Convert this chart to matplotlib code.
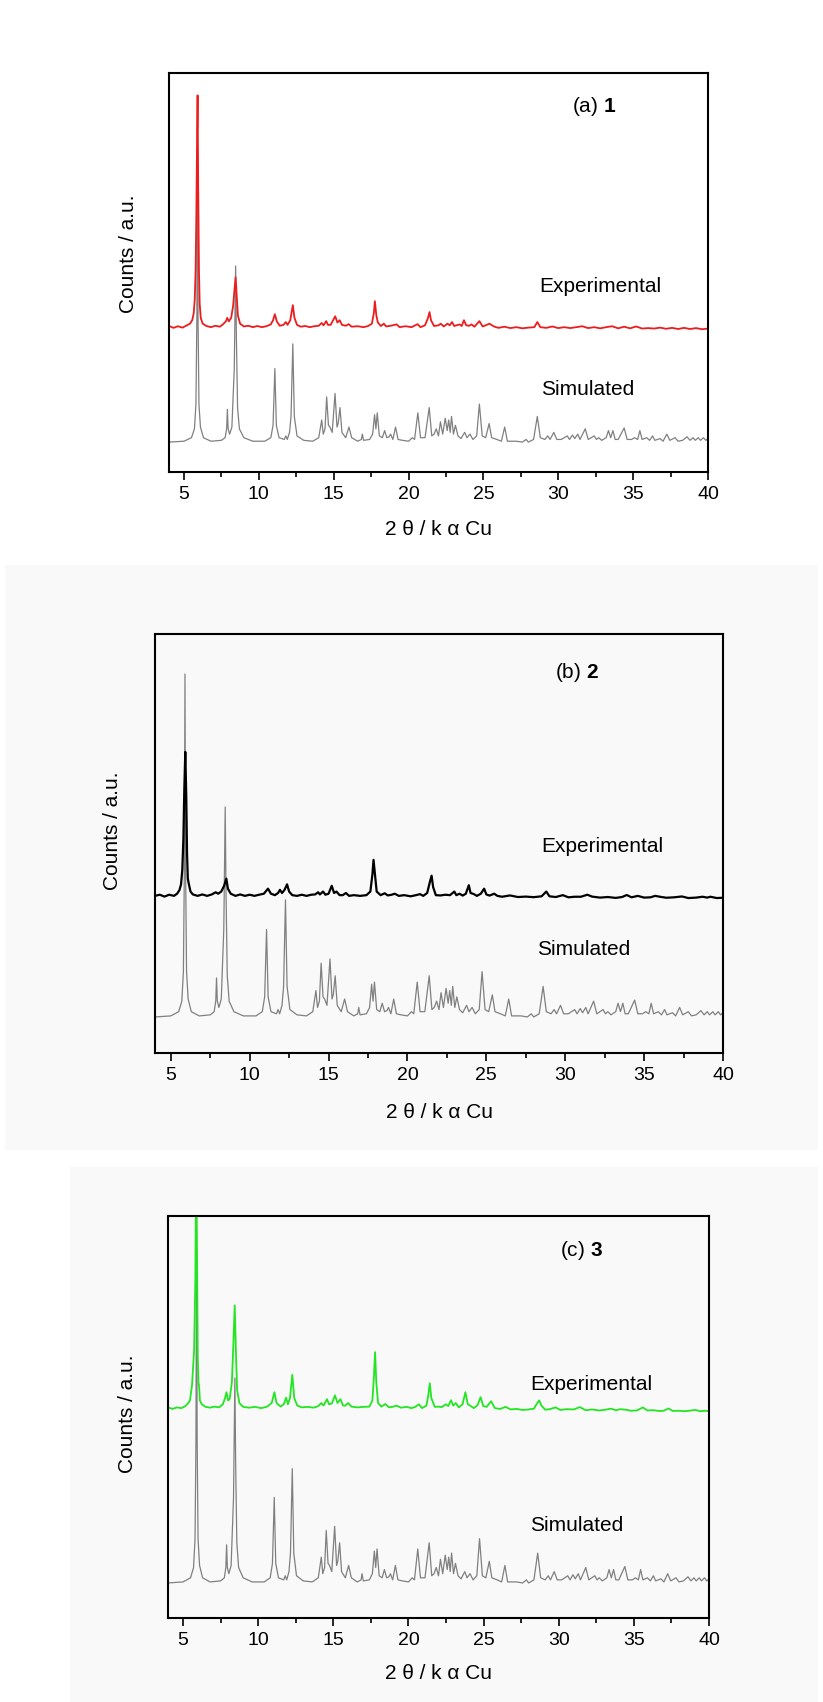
import matplotlib
matplotlib.use("Agg")
import matplotlib.pyplot as plt
from matplotlib.patches import Rectangle
from matplotlib.ticker import MultipleLocator

plt.rcParams['font.family'] = ['Liberation Sans', 'DejaVu Sans']
plt.rcParams['mathtext.fontset'] = 'custom'
plt.rcParams['mathtext.rm'] = 'Liberation Sans'
plt.rcParams['mathtext.bf'] = 'Liberation Sans:bold'

# simulated pattern (same phase for 1-3), counts relative to the 8.45 deg line = 100
sim_two_theta = [4.0, 5.0, 5.5, 5.7, 5.8, 5.86, 5.9, 5.94, 6.0, 6.1,
                 6.3, 6.8, 7.5, 7.75, 7.85, 7.9, 7.95, 8.05, 8.2, 8.3,
                 8.36, 8.45, 8.5, 8.58, 8.7, 9.0, 9.6, 10.4, 10.8, 10.95,
                 11.07, 11.17, 11.35, 11.7, 11.8, 11.9, 12.05, 12.15, 12.27, 12.37,
                 12.55, 13.0, 13.6, 14.0, 14.2, 14.3, 14.42, 14.53, 14.65, 14.75,
                 14.9, 15.09, 15.22, 15.3, 15.42, 15.55, 15.8, 16.02, 16.2, 16.6,
                 16.85, 16.91, 17.0, 17.4, 17.6, 17.73, 17.82, 17.91, 18.05, 18.25,
                 18.4, 18.55, 18.7, 18.8, 18.95, 19.13, 19.3, 19.6, 20.0, 20.25,
                 20.4, 20.62, 20.8, 21.1, 21.38, 21.55, 21.7, 21.85, 22.0, 22.13,
                 22.28, 22.45, 22.58, 22.68, 22.78, 22.87, 23.0, 23.13, 23.3, 23.5,
                 23.75, 23.9, 24.1, 24.3, 24.55, 24.73, 24.92, 25.15, 25.38, 25.55,
                 25.9, 26.2, 26.42, 26.6, 27.2, 27.6, 27.85, 28.0, 28.35, 28.6,
                 28.8, 29.1, 29.3, 29.45, 29.7, 29.9, 30.2, 30.4, 30.6, 30.75,
                 30.95, 31.1, 31.3, 31.45, 31.8, 32.0, 32.2, 32.4, 32.55, 32.7,
                 32.9, 33.2, 33.35, 33.5, 33.65, 33.8, 34.0, 34.4, 34.6, 34.9,
                 35.1, 35.3, 35.45, 35.6, 35.9, 36.1, 36.3, 36.45, 36.8, 37.0,
                 37.25, 37.45, 37.8, 38.0, 38.3, 38.6, 38.8, 39.0, 39.15, 39.35,
                 39.5, 39.7, 39.85, 40.0]
sim_counts = [0.5, 1, 3, 8, 22, 70, 163, 70, 22, 9,
              3, 1, 1.5, 3, 8, 19, 8, 5, 9, 30,
              42, 100, 60, 20, 8, 3, 1, 1, 3, 10,
              42, 10, 3, 2, 4, 2, 6, 15, 56, 15,
              4, 1.5, 1, 3, 13, 5, 8, 26, 10, 9,
              6, 28, 9, 11, 20, 6, 3, 9, 3, 1,
              2, 5, 1.5, 2, 5, 16, 8, 17, 4, 3,
              7, 3, 3.5, 5, 2, 9, 2, 1.5, 1, 3,
              2, 17, 3, 3, 20, 4, 5, 8, 4, 12,
              5, 14, 7, 13, 6, 15, 5, 10, 4, 2.5,
              6, 3, 5, 2, 4, 22, 4, 3, 11, 3,
              2, 1, 9, 1, 1, 0.5, 2, 0.5, 2, 15,
              3, 2, 4, 2, 6, 2, 2, 3, 4, 2,
              4.5, 2.5, 5, 2, 8, 2, 3, 4, 2, 3,
              1.5, 3, 7, 3, 7, 2, 2, 8.5, 2, 2,
              3, 2, 7, 2, 3, 1.5, 4, 1.5, 2.5, 1,
              5, 1.5, 3, 1, 1.5, 3.5, 1.5, 3, 1.5, 3,
              1.5, 3, 1.5, 2.5]

# experimental pattern of 1, strongest line = 100
exp1_two_theta = [4.0, 4.3, 4.6, 4.9, 5.2, 5.4, 5.55, 5.65, 5.72, 5.78,
                  5.83, 5.88, 5.91, 5.95, 6.0, 6.05, 6.12, 6.25, 6.5, 6.8,
                  7.1, 7.4, 7.6, 7.8, 7.89, 8.0, 8.15, 8.28, 8.37, 8.45,
                  8.52, 8.6, 8.75, 9.0, 9.3, 9.6, 9.9, 10.2, 10.5, 10.8,
                  10.95, 11.07, 11.2, 11.4, 11.65, 11.8, 11.92, 12.1, 12.27, 12.38,
                  12.55, 12.8, 13.1, 13.4, 13.7, 14.0, 14.2, 14.32, 14.5, 14.62,
                  14.8, 15.1, 15.25, 15.4, 15.55, 15.8, 16.0, 16.2, 16.6, 17.0,
                  17.3, 17.55, 17.68, 17.75, 17.85, 17.95, 18.15, 18.35, 18.5, 18.8,
                  19.2, 19.4, 19.8, 20.2, 20.6, 20.8, 21.1, 21.3, 21.4, 21.5,
                  21.7, 22.0, 22.15, 22.35, 22.6, 22.75, 22.9, 23.05, 23.4, 23.55,
                  23.7, 23.85, 24.05, 24.2, 24.4, 24.73, 24.95, 25.15, 25.4, 25.7,
                  26.0, 26.4, 26.8, 27.2, 27.6, 28.0, 28.4, 28.6, 28.8, 29.2,
                  29.6, 30.0, 30.4, 30.8, 31.2, 31.6, 32.0, 32.4, 32.8, 33.2,
                  33.6, 34.0, 34.4, 34.8, 35.2, 35.6, 36.0, 36.4, 36.8, 37.2,
                  37.6, 38.0, 38.4, 38.8, 39.2, 39.6, 40.0]
exp1_counts = [0.5, -0.3, 0.4, -0.2, 0.8, 1.5, 3, 6, 12, 25,
               50, 85, 100, 60, 25, 10, 4, 1.5, 0.5, 0,
               0.6, 0.2, 1.2, 2.5, 4, 2.5, 4, 9, 16, 21.5,
               14, 5, 1.5, 0.3, 0.6, 0, 0.5, 0, 0.4, 1.2,
               3, 5.6, 2.5, 0.6, 1, 2.2, 1, 3, 9.5, 4,
               1, 0.2, 0.5, 0, 0.4, 0.6, 1.8, 0.8, 2.6, 1,
               1, 4.7, 2, 3, 1, 0.6, 1.3, 0.2, 0.4, 0,
               0.5, 1.5, 6, 11.2, 5, 2, 0.5, 1.5, 0.3, 0.6,
               1.2, 0, 0.4, 0, 1.3, 0, 0.8, 4, 6.5, 3,
               0.5, 0.8, 1.5, 0.3, 1.5, 0.8, 2.2, 0.5, 1.2, 0.5,
               3, 0.8, 0.6, 1.2, 0.2, 2.6, 0.3, 0.8, 1.5, 0.3,
               -0.3, 0.2, -0.4, 0, -0.5, -0.2, 0, 2.2, 0, -0.3,
               0.3, -0.4, 0, -0.4, 0, 0.4, -0.4, 0, -0.5, 0,
               0.4, -0.5, 0.2, -0.5, 0.3, -0.6, -0.4, -0.6, -0.2, -0.7,
               -0.3, -0.8, -0.3, -0.8, -0.4, -0.9, -0.6]

# experimental pattern of 2
exp2_two_theta = [4.0, 4.3, 4.6, 4.9, 5.2, 5.4, 5.55, 5.65, 5.73, 5.8,
                  5.86, 5.92, 5.98, 6.03, 6.08, 6.15, 6.25, 6.4, 6.7, 7.0,
                  7.3, 7.6, 7.85, 8.0, 8.2, 8.38, 8.52, 8.62, 8.8, 9.1,
                  9.4, 9.7, 10.0, 10.3, 10.6, 10.9, 11.16, 11.35, 11.6, 11.8,
                  11.92, 12.05, 12.2, 12.37, 12.5, 12.7, 13.0, 13.3, 13.6, 13.9,
                  14.15, 14.34, 14.45, 14.65, 14.8, 15.0, 15.2, 15.35, 15.5, 15.7,
                  15.9, 16.1, 16.3, 16.6, 17.0, 17.4, 17.65, 17.78, 17.85, 17.95,
                  18.05, 18.3, 18.56, 18.75, 19.0, 19.2, 19.45, 19.8, 20.2, 20.5,
                  20.8, 21.0, 21.25, 21.43, 21.53, 21.63, 21.8, 22.1, 22.4, 22.7,
                  22.97, 23.1, 23.3, 23.5, 23.7, 23.89, 24.0, 24.2, 24.4, 24.65,
                  24.86, 25.0, 25.2, 25.5, 25.7, 26.0, 26.5, 27.0, 27.5, 28.0,
                  28.5, 28.8, 29.0, 29.4, 29.85, 30.2, 30.6, 31.0, 31.4, 31.7,
                  32.2, 32.7, 33.2, 33.6, 33.9, 34.2, 34.6, 35.0, 35.4, 35.7,
                  36.0, 36.4, 36.9, 37.4, 37.8, 38.3, 38.7, 39.0, 39.2, 39.6,
                  40.0]
exp2_counts = [0, 0.8, -0.5, 0.8, 0, 1.5, 4, 8, 18, 40,
               75, 100, 70, 30, 12, 8, 3, 1, 0, 1,
               0, 1, 2.5, 1.5, 3, 7, 12, 5, 1.5, 0,
               1, 0, 0.8, 0, 0.8, 1.5, 5, 1.5, 0.5, 2,
               4.2, 2, 4, 8, 3, 0.5, 0, 0.8, 0, 0.8,
               1, 2.5, 1, 3, 0.8, 1.5, 7, 2, 3, 0.5,
               0.5, 2, 0, 0.5, 0, 0.5, 3, 15, 25, 14,
               3, 0.5, 1.8, 0.3, 0.8, 1.5, 0, 0.5, -0.3, 0.4,
               1.2, 0, 2, 10, 14, 6, 0.5, 0.3, 0.8, 0.5,
               3, 0.5, 1.5, 0.2, 1.5, 7.4, 2, 1.3, 0, 1.5,
               5, 1, 0.2, 1.5, 0, -0.6, 0.3, -0.8, -0.5, -0.9,
               -0.3, 3, -0.3, -0.8, 0.5, -1, -0.6, -0.6, 0.8, -0.5,
               -1.2, -0.8, -1.4, -0.8, 0.6, -1, 0, -1.2, -1, 0,
               -0.6, -1.3, -1, -0.4, -1.5, -1.2, -0.6, -1.2, -0.6, -1.5,
               -1.3]

# experimental pattern of 3
exp3_two_theta = [4.0, 4.3, 4.6, 4.9, 5.15, 5.35, 5.46, 5.6, 5.74, 5.82,
                  5.88, 5.93, 5.98, 6.03, 6.07, 6.12, 6.25, 6.5, 6.8, 7.1,
                  7.4, 7.65, 7.8, 7.89, 8.0, 8.1, 8.25, 8.35, 8.44, 8.52,
                  8.6, 8.75, 9.0, 9.4, 9.8, 10.2, 10.6, 10.9, 11.08, 11.22,
                  11.5, 11.7, 11.86, 11.98, 12.12, 12.27, 12.4, 12.6, 12.9, 13.3,
                  13.7, 14.0, 14.2, 14.35, 14.58, 14.72, 14.9, 15.11, 15.28, 15.47,
                  15.65, 15.8, 15.99, 16.2, 16.6, 17.0, 17.4, 17.6, 17.7, 17.78,
                  17.86, 17.98, 18.2, 18.47, 18.7, 19.0, 19.2, 19.5, 19.9, 20.2,
                  20.45, 20.7, 20.9, 21.2, 21.32, 21.42, 21.52, 21.75, 22.0, 22.2,
                  22.5, 22.65, 22.83, 22.98, 23.15, 23.35, 23.6, 23.79, 23.95, 24.1,
                  24.35, 24.6, 24.8, 24.98, 25.2, 25.5, 25.75, 26.1, 26.46, 26.8,
                  27.2, 27.6, 28.0, 28.35, 28.55, 28.7, 28.85, 29.1, 29.4, 29.8,
                  30.1, 30.5, 31.0, 31.4, 31.8, 32.2, 32.7, 33.1, 33.5, 33.8,
                  34.1, 34.45, 34.8, 35.2, 35.6, 35.9, 36.3, 36.7, 37.0, 37.3,
                  37.6, 38.0, 38.4, 38.8, 39.1, 39.4, 39.7, 40.0]
exp3_counts = [0.3, -0.3, 0.3, 0, 0.8, 2, 3, 9, 23, 50,
               100, 60, 20, 10, 8.5, 3, 1.5, 0.5, 0.2, 0.6,
               0.3, 1.5, 4, 6.2, 3, 3.5, 10, 25, 40, 22,
               7, 2, 0.5, 0.2, 0.5, 0, 0.6, 2, 6.2, 2,
               0.6, 1.5, 4.1, 1.5, 4, 13, 4, 1, 0.3, 0.5,
               0.2, 0.8, 2, 1, 3.5, 1.5, 1.8, 5, 2, 3.5,
               1, 1, 2, 0.6, 0.3, 0.5, 0.6, 3, 12, 21.8,
               10, 2, 0.6, 1.6, 0.3, 0.6, 1, 0.2, 0.5, 0,
               0.5, 1.5, 0, 1, 5, 9.7, 4, 0.5, 0.6, 0.4,
               1.5, 0.8, 3.1, 1, 2, 0.3, 1.5, 6.2, 1.5, 1,
               0, 1.2, 4.3, 0.8, 0.5, 2.7, 0, -0.3, 0.5, -0.5,
               -0.3, -0.7, -0.5, -0.2, 1.8, 3, 1, -0.6, -0.4, 0.3,
               -0.7, -0.4, -0.5, 0.4, -0.8, -0.5, -0.9, -0.6, -0.2, -0.8,
               -0.4, -0.6, -1, -0.9, 0.3, -0.9, -0.8, -1.1, -1, -0.1,
               -1.1, -1, -1.2, -0.9, -0.7, -1.2, -1, -1.2]

panel_tags = ['(a)', '(b)', '(c)']
compound_ids = ['1', '2', '3']
exp_colors = ['#ee1c1c', '#000000', '#22e622']
x_ticks = [5, 10, 15, 20, 25, 30, 35, 40]

W, H = 823, 1702
fig = plt.figure(figsize=(W / 100, H / 100), dpi=100)

# faint grey page behind the 2nd and 3rd panel
for l, t, r, b in [(5, 565, 818, 1150), (70, 1167, 818, 1702)]:
    fig.patches.append(Rectangle((l / W, 1 - b / H), (r - l) / W, (b - t) / H,
                                 transform=fig.transFigure, facecolor='#f9f9f9',
                                 edgecolor='none', zorder=-1))

# per panel: frame (px), offsets/scales of the two traces, text spots (axes fraction)
panels = [
    dict(frame=(169, 73, 708, 472), sim=(0.0727, 0.004436), exp=(0.363, 0.00581),
         lw=1.3, tag=(0.789, 0.915), e=(0.80, 0.464), s=(0.777, 0.208),
         ylab=(-0.076, 0.546), xlab=-0.145),
    dict(frame=(155, 634, 723, 1053), sim=(0.0835, 0.005036), exp=(0.375, 0.003437),
         lw=1.6, tag=(0.743, 0.909), e=(0.787, 0.494), s=(0.755, 0.248),
         ylab=(-0.0757, 0.53), xlab=-0.141),
    dict(frame=(168, 1216, 709, 1618), sim=(0.0846, 0.005124), exp=(0.522, 0.00639),
         lw=1.3, tag=(0.765, 0.915), e=(0.782, 0.582), s=(0.756, 0.231),
         ylab=(-0.074, 0.507), xlab=-0.139),
]
exp_data = [(exp1_two_theta, exp1_counts), (exp2_two_theta, exp2_counts),
            (exp3_two_theta, exp3_counts)]

for i, p in enumerate(panels):
    l, t, r, b = p['frame']
    ax = fig.add_axes([l / W, 1 - b / H, (r - l) / W, (b - t) / H])
    ax.set_facecolor('none')

    s0, sk = p['sim']
    ax.plot(sim_two_theta, [s0 + sk * c for c in sim_counts], color='#808080', lw=0.9)
    e0, ek = p['exp']
    ex, ey = exp_data[i]
    ax.plot(ex, [e0 + ek * c for c in ey], color=exp_colors[i], lw=p['lw'])

    ax.set_xlim(4, 40)
    ax.set_ylim(0, 1)
    ax.set_yticks([])
    ax.set_xticks(x_ticks)
    ax.xaxis.set_minor_locator(MultipleLocator(2.5))
    ax.tick_params(axis='x', which='major', direction='out', length=6, width=1.2,
                   labelsize=14, pad=4)
    ax.tick_params(axis='x', which='minor', direction='out', length=3.5, width=1.2)
    for sp in ax.spines.values():
        sp.set_linewidth(1.5)

    ax.text(*p['tag'], panel_tags[i] + r' $\mathbf{' + compound_ids[i] + '}$',
            transform=ax.transAxes, ha='center', va='center', fontsize=15)
    ax.text(*p['e'], 'Experimental', transform=ax.transAxes, ha='center',
            va='center', fontsize=15)
    ax.text(*p['s'], 'Simulated', transform=ax.transAxes, ha='center',
            va='center', fontsize=15)
    ax.text(*p['ylab'], 'Counts / a.u.', transform=ax.transAxes, rotation=90,
            ha='center', va='center', fontsize=15)
    ax.text(0.5, p['xlab'], '2 \u03b8 / k \u03b1 Cu', transform=ax.transAxes,
            ha='center', va='center', fontsize=15)

fig.savefig('out.png', dpi=100)
